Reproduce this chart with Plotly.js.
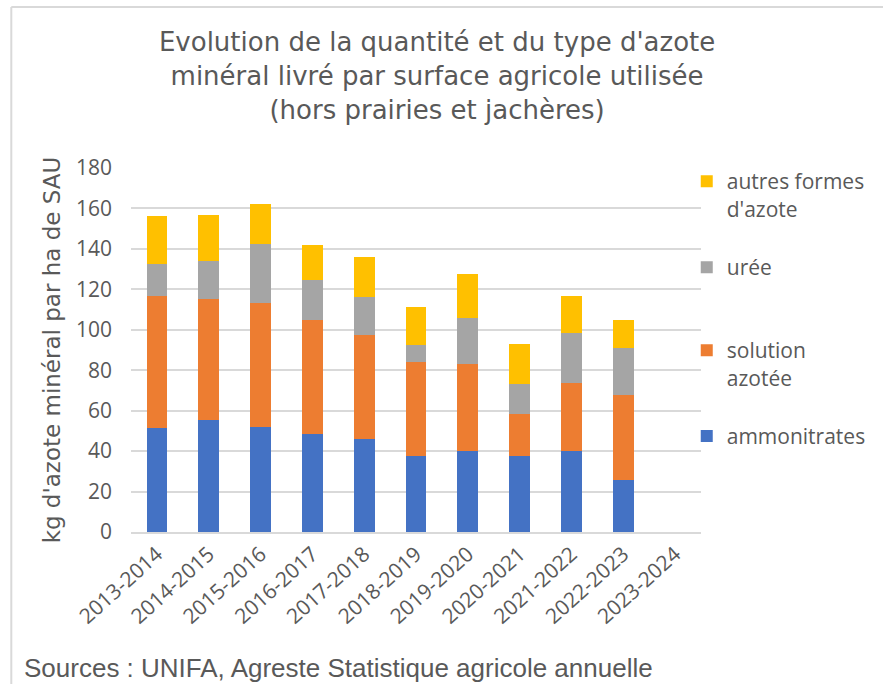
<!DOCTYPE html>
<html>
<head>
<meta charset="utf-8">
<script src="https://cdn.plot.ly/plotly-3.0.1.min.js"></script>
<style>
  html, body { margin: 0; padding: 0; background: #ffffff; }
  #chart { width: 883px; height: 684px; }
</style>
</head>
<body>
<div id="chart"></div>
<script>
const campagnes = ["2013-2014", "2014-2015", "2015-2016", "2016-2017", "2017-2018", "2018-2019", "2019-2020", "2020-2021", "2021-2022", "2022-2023", "2023-2024"];
const ammonitrates = [51.6, 55.2, 52.1, 48.5, 46.1, 37.7, 39.9, 37.7, 39.9, 25.9, null];
const solutionAzotee = [64.9, 60.2, 61.3, 56.3, 51.3, 46.4, 43.2, 20.8, 33.9, 41.7, null];
const uree = [16.0, 18.8, 29.2, 19.6, 18.6, 8.5, 22.7, 14.8, 24.6, 23.4, null];
const autresFormes = [23.9, 22.7, 19.8, 17.7, 20.2, 18.7, 21.9, 19.8, 18.1, 13.8, null];
const yTicks = [0, 20, 40, 60, 80, 100, 120, 140, 160, 180];

const txt = "#595959";
const fontFam = "'Open Sans', sans-serif";
const wideFam = "'DejaVu Sans', sans-serif";

const series = [
  {name: "ammonitrates", y: ammonitrates, color: "#4472C4", legend: "legend4"},
  {name: "solution<br>azotée", y: solutionAzotee, color: "#ED7D31", legend: "legend3"},
  {name: "urée", y: uree, color: "#A5A5A5", legend: "legend2"},
  {name: "autres formes<br>d'azote", y: autresFormes, color: "#FFC000", legend: "legend"}
];

const traces = series.map(s => ({
  type: "bar",
  x: campagnes,
  y: s.y,
  name: s.name,
  legend: s.legend,
  showlegend: true,
  marker: {color: s.color, line: {width: 0}},
  hoverinfo: "x+y+name"
}));

function leg(y) {
  return {
    x: 0.975, xanchor: "left", y: y, yanchor: "top",
    font: {family: fontFam, size: 21, color: txt},
    bgcolor: "rgba(0,0,0,0)", valign: "top",
    itemclick: false, itemdoubleclick: false
  };
}

const layout = {
  width: 883, height: 684,
  paper_bgcolor: "#ffffff", plot_bgcolor: "#ffffff",
  margin: {l: 131, r: 170, t: 168, b: 152},
  barmode: "stack",
  bargap: 0.6,
  showlegend: true,
  title: {
    text: "Evolution de la quantité et du type d'azote<br>minéral livré par surface agricole utilisée<br>(hors prairies et jachères)",
    font: {family: wideFam, size: 26, color: txt},
    xref: "container", x: 0.495, xanchor: "center",
    yref: "container", y: 0.925, yanchor: "top"
  },
  xaxis: {
    type: "category",
    tickangle: -42,
    tickfont: {family: fontFam, size: 21, color: txt},
    showgrid: false,
    showline: true, linecolor: "#d9d9d9", linewidth: 1.5,
    ticks: "", fixedrange: true
  },
  yaxis: {
    range: [0, 180],
    tickvals: yTicks,
    ticktext: yTicks.map(String),
    tickfont: {family: fontFam, size: 21, color: txt},
    ticklabelstandoff: 18,
    showgrid: true, gridcolor: "#d9d9d9", gridwidth: 1.5,
    zeroline: false, ticks: "", ticklen: 0,
    title: {text: "kg d'azote minéral par ha de SAU", font: {family: wideFam, size: 23, color: txt}, standoff: 8},
    fixedrange: true
  },
  legend: leg(1.019),
  legend2: leg(0.783),
  legend3: leg(0.555),
  legend4: leg(0.319),
  shapes: [
    {type: "line", xref: "paper", yref: "paper", x0: -0.21, x1: 1.45, y0: 1.442, y1: 1.442, line: {color: "#d9d9d9", width: 2}},
    {type: "line", xref: "paper", yref: "paper", x0: -0.21, x1: -0.21, y0: 1.442, y1: -0.45, line: {color: "#d9d9d9", width: 2}}
  ],
  annotations: [
    {text: "Sources : UNIFA, Agreste Statistique agricole annuelle", xref: "paper", yref: "paper",
     x: -0.192, y: -0.374, xanchor: "left", yanchor: "middle", showarrow: false,
     font: {family: "'Liberation Sans Narrow', 'Arial Narrow', sans-serif", size: 26, color: txt}}
  ]
};

Plotly.newPlot("chart", traces, layout, {displayModeBar: false, responsive: false});
</script>
</body>
</html>
